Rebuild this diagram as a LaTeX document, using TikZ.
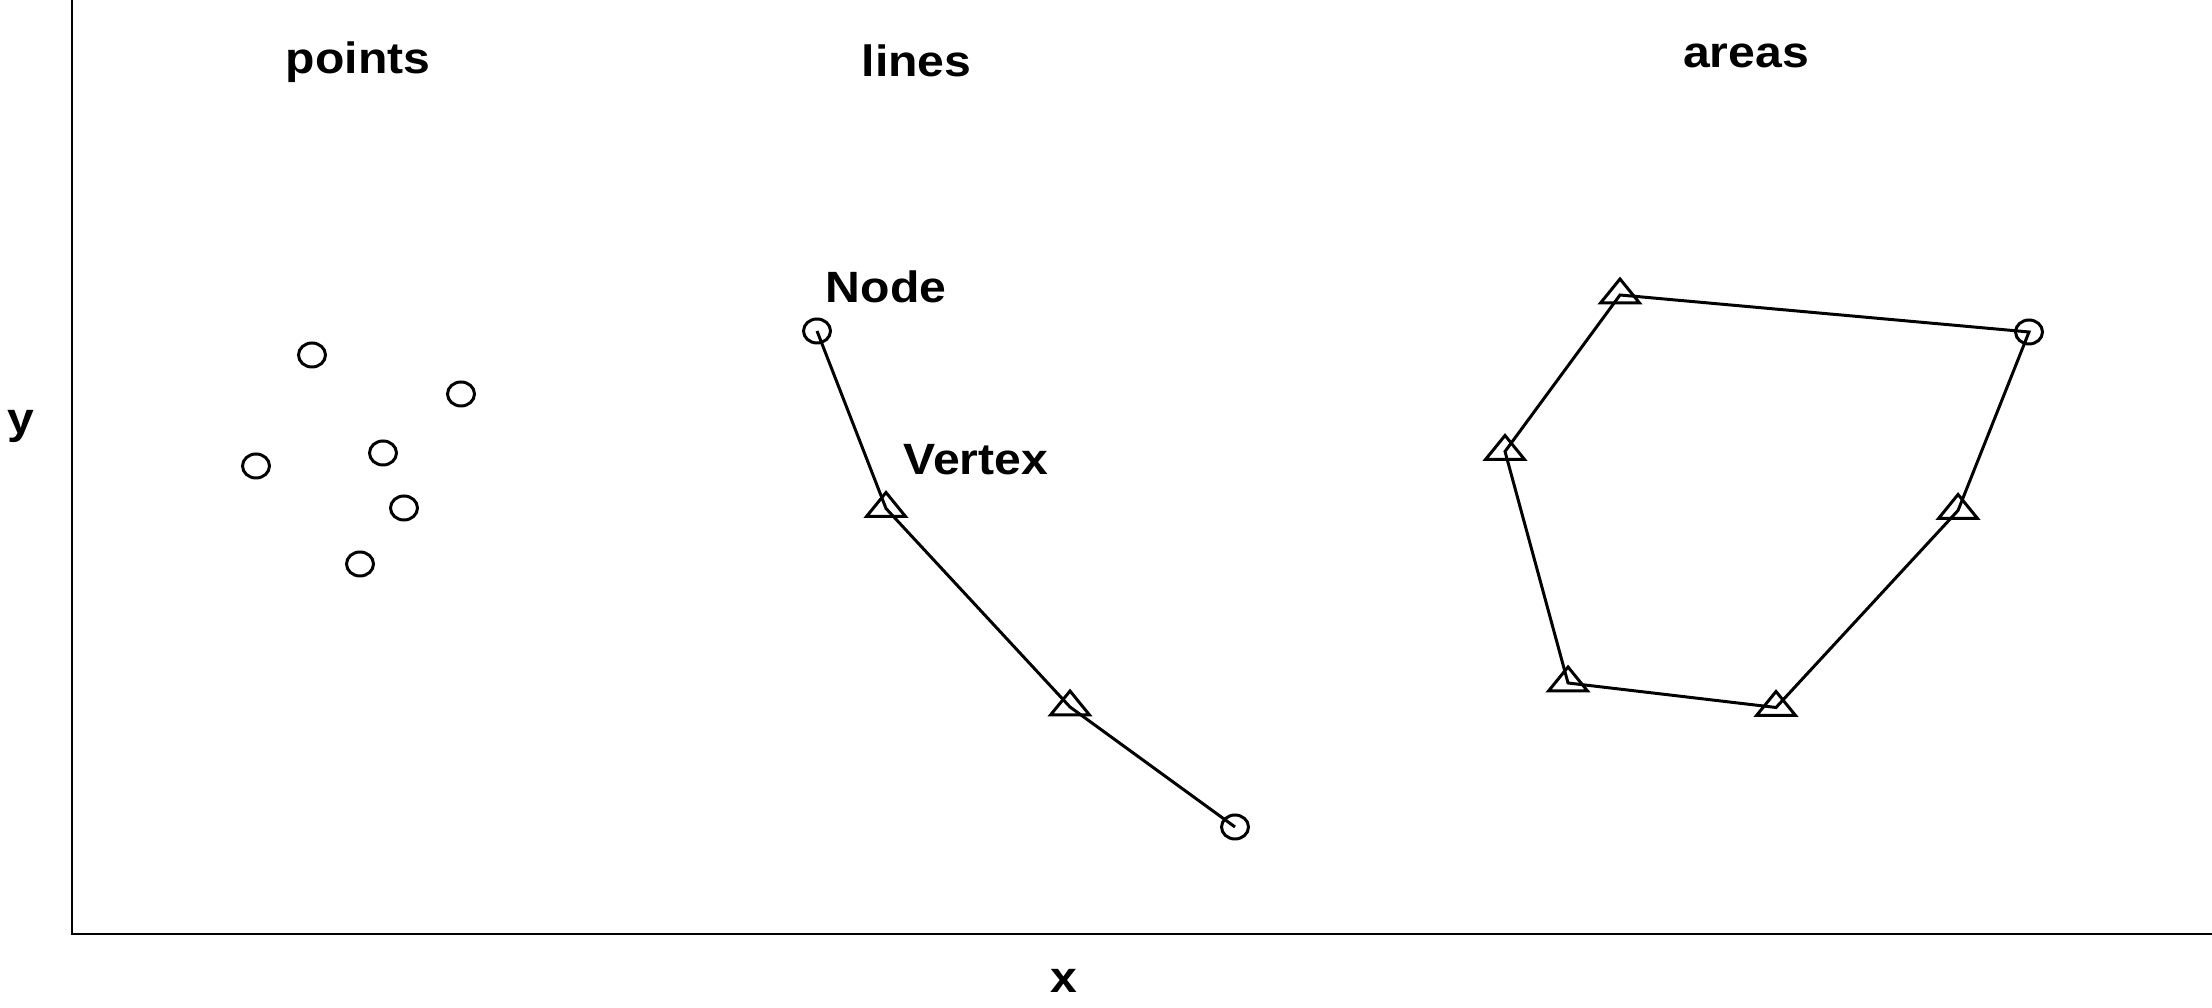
\documentclass[tikz,border=0pt]{standalone}
\usepackage{fontspec}
\setmainfont{Liberation Sans}
\tikzset{
	lbl/.style={font=\bfseries\fontsize{13.7}{16}\selectfont,inner sep=0pt,anchor=base,yscale=0.91,transform shape},
	nd/.pic={\draw (0,0) ellipse (0.135 and 0.12);},
	vtx/.pic={\draw (-0.195,-0.08)--(0.195,-0.08)--(0,0.16)--cycle;}
}
\begin{document}
\begin{tikzpicture}[line width=0.85pt]
			\useasboundingbox (0,0) rectangle (22.12,10.08);
			\coordinate (O) at (0.72,0.74);
			\coordinate (ytop) at (0.72,10.08);
			\coordinate (xend) at (22.12,0.74);
			\draw (ytop)--(O)--(xend);
			\node[lbl] (xlab) at (10.64,0.15) {x};
			\node[lbl] (ylab) at (0.21,5.74) {y};
			% titles
			\node[lbl] (tpoints) at (3.58,9.34) {points};
			\node[lbl] (tlines) at (9.165,9.31) {lines};
			\node[lbl] (tareas) at (17.46,9.40) {areas};
			% points
			\foreach \n/\p in {p1/{(3.12,6.53)},p2/{(4.61,6.14)},p3/{(2.56,5.42)},p4/{(3.83,5.55)},p5/{(4.04,5.00)},p6/{(3.60,4.44)}}
				\pic (\n) at \p {nd};
			% lines
			\coordinate (l1) at (8.17,6.77);
			\coordinate (l2) at (8.86,4.995);
			\coordinate (l3) at (10.70,3.01);
			\coordinate (l4) at (12.35,1.81);
			\draw (l1)--(l2)--(l3)--(l4);
			\pic at (l1) {nd}; \pic at (l4) {nd};
			\pic at (l2) {vtx}; \pic at (l3) {vtx};
			\node[lbl] (node) at (8.86,7.05) {Node};
			\node[lbl] (vertex) at (9.76,5.33) {Vertex};
			% areas
			\coordinate (a1) at (16.20,7.13);
			\coordinate (a2) at (20.29,6.76);
			\coordinate (a3) at (19.58,4.975);
			\coordinate (a4) at (17.76,3.005);
			\coordinate (a5) at (15.68,3.25);
			\coordinate (a6) at (15.05,5.565);
			\draw (a1)--(a2)--(a3)--(a4)--(a5)--(a6)--cycle;
			\pic at (a2) {nd};
			\foreach \a in {a1,a3,a4,a5,a6} \pic at (\a) {vtx};
\end{tikzpicture}
\end{document}
